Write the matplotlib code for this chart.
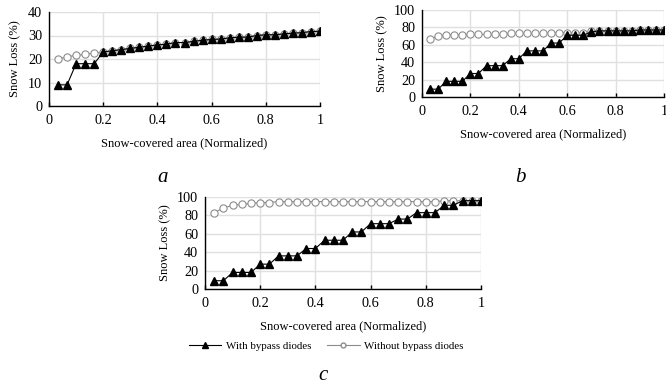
import numpy as np
import matplotlib
matplotlib.use("Agg")
import matplotlib.pyplot as plt
from matplotlib.lines import Line2D

plt.rcParams['font.family'] = ['Liberation Serif', 'DejaVu Serif']

x = [k / 30 for k in range(1, 31)]

a_with = [9, 9, 18, 18, 18, 23, 23.5, 24, 24.5, 25, 25.5, 26, 26.3, 27, 27,
          27.5, 28, 28.3, 28.5, 29, 29.3, 29.3, 30, 30.3, 30.3, 30.7, 31, 31.2, 31.7, 31.8]
a_without = [20, 21, 21.5, 22, 22.5, 23, 23.5, 24, 24.5, 25, 25.5, 26, 26.3, 27, 27,
             27.5, 28, 28.3, 28.5, 29, 29.3, 29.3, 30, 30.3, 30.3, 30.7, 31, 31.2, 31.7, 31.8]

b_with = [9, 9, 18, 18, 18, 27, 27, 36, 36, 36, 44, 44, 53, 53, 53, 62, 62, 71, 71, 71,
          75, 76, 76, 76, 76, 76, 77, 77, 77, 77]
b_without = [67, 70, 71, 71, 71, 72, 72, 72, 72, 72, 73, 73, 73, 73, 73, 74, 74, 74, 74, 74,
             75.5, 76, 76, 76, 76, 76, 77.5, 77.5, 77.5, 77.5]

c_with = [9, 9, 18, 18, 18, 27, 27, 36, 36, 36, 44, 44, 53, 53, 53, 62, 62, 71, 71, 71,
          76, 76, 83, 83, 83, 91, 91, 96, 96, 96]
c_without = [83, 88, 91, 92, 93, 94, 94, 95, 95, 95, 95, 95, 95, 95, 95, 95, 95, 95, 95, 95,
             95, 95, 95, 95, 95, 96, 96, 96, 96, 96]

xticks = [0, 0.2, 0.4, 0.6, 0.8, 1]
xticklabels = ['0', '0.2', '0.4', '0.6', '0.8', '1']

fig = plt.figure(figsize=(6.66, 3.85), dpi=100)

TFS = 10.3
LFS = 9

def panel(rect, w, wo, ymax, ystep, letter, letter_xy, ylabel_pad):
    ax = fig.add_axes(rect)
    ax.plot(x, wo, color='#8c8c8c', lw=0.8, marker='o', ms=5.2, mfc='white',
            mec='#8c8c8c', mew=0.8, zorder=3)
    ax.plot(x, w, color='black', lw=0.8, marker='^', ms=6, mfc='black',
            mec='black', zorder=4)
    ax.set_xlim(0, 1)
    ax.set_ylim(0, ymax)
    ax.set_xticks(xticks)
    ax.set_xticklabels(xticklabels, fontsize=TFS)
    ax.set_yticks(np.arange(0, ymax + 1, ystep))
    ax.tick_params(axis='y', length=0, labelsize=TFS, pad=5)
    ax.tick_params(axis='x', direction='in', length=3, width=1, labelsize=TFS, pad=6)
    ax.grid(True, color='#e0e0e0', lw=1.0)
    ax.set_axisbelow(True)
    for s in ['top', 'right']:
        ax.spines[s].set_visible(False)
    for s in ['left', 'bottom']:
        ax.spines[s].set_color('black')
        ax.spines[s].set_linewidth(1.0)
    ax.set_xlabel('Snow-covered area (Normalized)', fontsize=LFS, labelpad=7)
    ax.set_ylabel('Snow Loss (%)', fontsize=LFS, labelpad=ylabel_pad)
    fig.text(letter_xy[0], letter_xy[1], letter, fontsize=15, style='italic',
             ha='center', va='center')
    return ax

panel([49/666, 1-106/385, 271/666, 94/385], a_with, a_without, 40, 10, 'a',
      (163/666, 1-177/385), 5)
panel([422/666, 1-97/385, 242/666, 87/385], b_with, b_without, 100, 20, 'b',
      (520/666, 1-177/385), 4)
ax_c = panel([205/666, 1-289/385, 276/666, 92/385], c_with, c_without, 100, 20, 'c',
             (323/666, 1-376/385), 4)

handles = [Line2D([], [], color='black', lw=0.8, marker='^', ms=4, mfc='black', mec='black'),
           Line2D([], [], color='#8c8c8c', lw=0.8, marker='o', ms=3.5, mfc='white', mec='#8c8c8c')]
fig.legend(handles, ['With bypass diodes', 'Without bypass diodes'],
           loc='center', bbox_to_anchor=(326/666, 1-346/385), ncol=2, frameon=False,
           fontsize=7.8, handlelength=3.0, columnspacing=1.5, handletextpad=0.4)

fig.savefig('out.png', dpi=100)
